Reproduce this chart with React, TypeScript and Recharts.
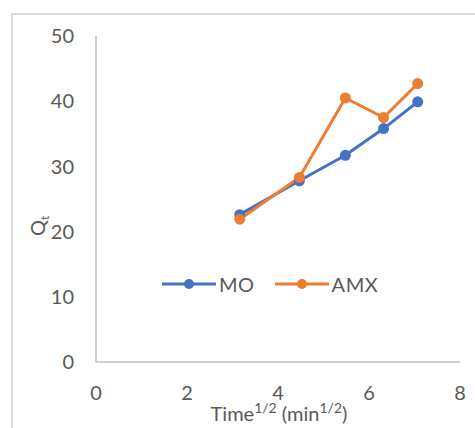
import { Line, LineChart, XAxis, YAxis } from "recharts";

const xValues = [3.16, 4.47, 5.48, 6.32, 7.07];
const moValues = [22.6, 27.8, 31.7, 35.8, 39.9];
const amxValues = [21.9, 28.3, 40.5, 37.5, 42.7];
const xTicks = [0, 2, 4, 6, 8];
const yTicks = [0, 10, 20, 30, 40, 50];

const MO_COLOR = "#4472C4";
const AMX_COLOR = "#ED7D31";
const TEXT = "#595959";
const AXIS = "#bfbfbf";
const FONT = "Lato, 'Open Sans', sans-serif";

const data = xValues.map((x, i) => ({ x, mo: moValues[i], amx: amxValues[i] }));

const series = [
  { key: "mo", name: "MO", color: MO_COLOR },
  { key: "amx", name: "AMX", color: AMX_COLOR },
];

// Excel-style legend: short line with a dot in the middle, then the name
function LegendRow() {
  return (
    <div style={{ display: "flex", alignItems: "center", fontFamily: FONT, fontSize: 20, color: TEXT }}>
      {series.map((s, i) => (
        <span key={s.key} style={{ display: "flex", alignItems: "center", marginLeft: i ? 20 : 0 }}>
          <svg width={54} height={12}>
            <line x1={0} y1={6} x2={54} y2={6} stroke={s.color} strokeWidth={3} />
            <circle cx={27} cy={6} r={5} fill={s.color} />
          </svg>
          <span style={{ marginLeft: 3, letterSpacing: 0.5 }}>{s.name}</span>
        </span>
      ))}
    </div>
  );
}

export default function App() {
  return (
    <div
      style={{
        position: "absolute",
        left: 0,
        top: 0,
        width: 475,
        height: 428,
        overflow: "hidden",
        background: "#fff",
      }}
    >
      <div
        style={{
          position: "absolute",
          left: 11,
          top: 13,
          width: 480,
          height: 440,
          border: "2px solid #d9d9d9",
        }}
      />
      <div style={{ position: "absolute", left: 0, top: 0 }}>
        <LineChart width={475} height={428} data={data} margin={{ top: 36, right: 15, bottom: 0, left: 0 }}>
          <XAxis
            dataKey="x"
            type="number"
            domain={[0, 8]}
            ticks={xTicks}
            height={66}
            tickLine={false}
            tickSize={0}
            tickMargin={24}
            axisLine={{ stroke: AXIS, strokeWidth: 1.5 }}
            tick={{ fill: TEXT, fontSize: 20, fontFamily: FONT }}
            label={{
              content: () => (
                <text x={279} y={421} textAnchor="middle" fill={TEXT} fontSize={20} fontFamily={FONT}>
                  Time
                  <tspan fontSize={14} dy={-8}>1/2</tspan>
                  <tspan fontSize={20} dy={8}> (min</tspan>
                  <tspan fontSize={14} dy={-8}>1/2</tspan>
                  <tspan fontSize={20} dy={8}>)</tspan>
                </text>
              ),
            }}
          />
          <YAxis
            type="number"
            domain={[0, 50]}
            ticks={yTicks}
            width={96}
            tickLine={false}
            tickSize={0}
            tickMargin={22}
            axisLine={{ stroke: AXIS, strokeWidth: 1.5 }}
            tick={{ fill: TEXT, fontSize: 20, fontFamily: FONT }}
            label={{
              content: () => (
                <text
                  x={45}
                  y={236}
                  transform="rotate(-90 45 236)"
                  fill={TEXT}
                  fontSize={20}
                  fontFamily={FONT}
                >
                  Q
                  <tspan fontSize={12} dy={4}>t</tspan>
                </text>
              ),
            }}
          />
          {series.map((s) => (
            <Line
              key={s.key}
              dataKey={s.key}
              name={s.name}
              stroke={s.color}
              strokeWidth={3}
              dot={{ r: 5.5, fill: s.color, stroke: s.color, strokeWidth: 0 }}
              activeDot={false}
              isAnimationActive={false}
            />
          ))}
        </LineChart>
      </div>
      <div style={{ position: "absolute", left: 162, top: 272 }}>
        <LegendRow />
      </div>
    </div>
  );
}
